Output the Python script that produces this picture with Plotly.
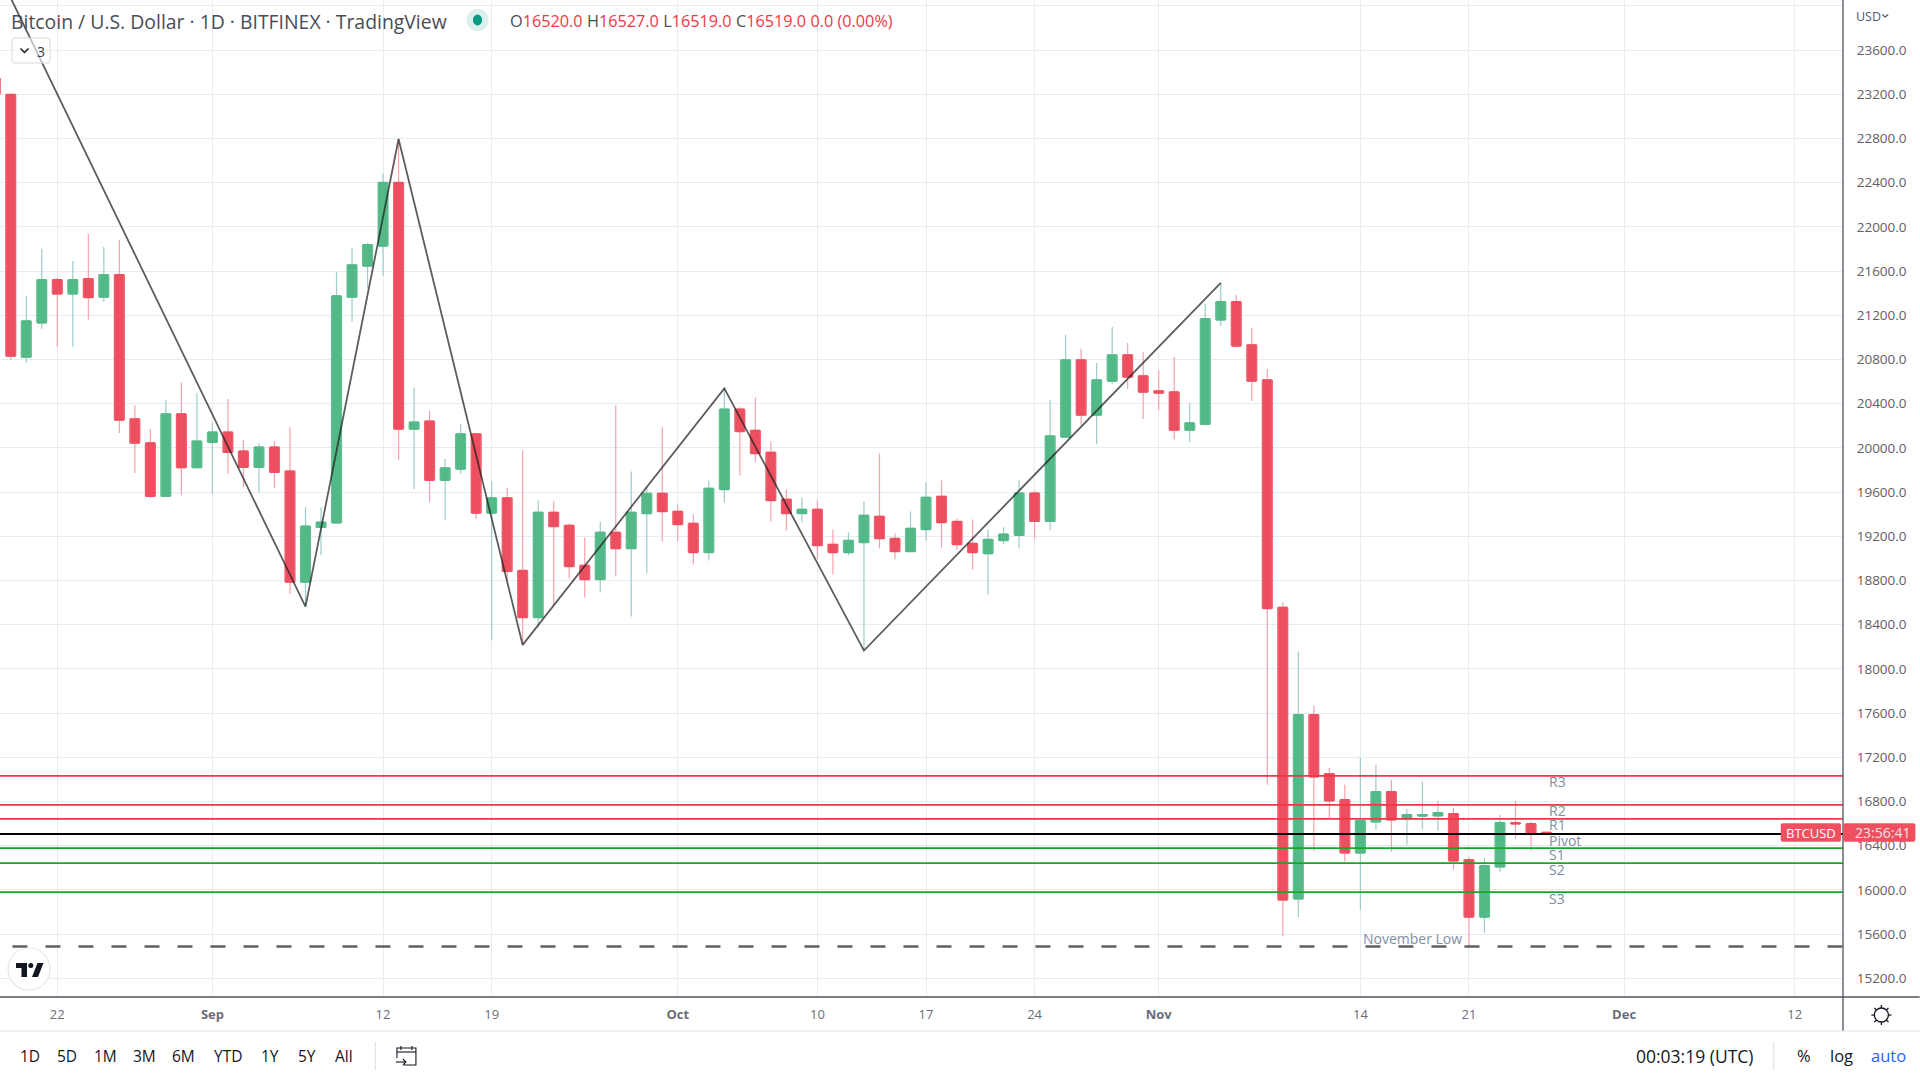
#!/usr/bin/env python3
# -*- coding: utf-8 -*-
"""Bitcoin / U.S. Dollar daily candles with pivot levels"""

import pandas as pd
import plotly.graph_objects as go

W, H = 1920, 1080
PLOT_R, PLOT_B = 1843.3, 997.0

dates = pd.date_range("2022-08-18", periods=101).strftime("%Y-%m-%d").tolist()

opens = [23346, 23197, 20822, 21132, 21521, 21394, 21530, 21365, 21566, 20262,
         20045, 19563, 20307, 19822, 20051, 20142, 19970, 19825, 20006, 19789,
         18786, 19281, 19323, 21365, 21647, 21828, 22401, 20171, 20242, 19708,
         19809, 20126, 19411, 19547, 18890, 18465, 19416, 19298, 18936, 18809,
         19235, 19090, 19407, 19588, 19425, 19316, 19054, 19624, 20349, 20158,
         19959, 19534, 19407, 19443, 19126, 19054, 19144, 19380, 19180, 19063,
         19262, 19561, 19334, 19135, 19044, 19163, 19209, 19590, 19336, 20098,
         20796, 20297, 20605, 20841, 20651, 20515, 20506, 20161, 20215, 21159,
         21322, 20932, 20615, 18556, 15919, 17586, 17052, 16816, 16336, 16617,
         16889, 16644, 16670, 16671, 16689, 16273, 15756, 16209, 16608, 16599,
         16520]
highs = [23346, 23206, 21375, 21802, 21540, 21692, 21938, 21818, 21883, 20388,
         20171, 20433, 20595, 20498, 20229, 20443, 20071, 20042, 20061, 20187,
         19462, 19462, 21592, 21812, 21854, 22482, 22795, 20543, 20333, 19899,
         20216, 20130, 19699, 19637, 19977, 19524, 19515, 19316, 19189, 19334,
         20385, 19787, 19651, 20186, 19488, 19398, 19706, 20539, 20367, 20457,
         20059, 19624, 19552, 19524, 19262, 19235, 19515, 19950, 19226, 19425,
         19688, 19706, 19361, 19352, 19262, 19281, 19708, 19617, 20433, 21023,
         20896, 20769, 21095, 20950, 20868, 20705, 20823, 20406, 21304, 21494,
         21385, 21086, 20714, 18601, 18157, 17668, 17106, 16952, 17197, 17133,
         16997, 16735, 16979, 16807, 16744, 16300, 16291, 16680, 16807, 16617,
         16527]
lows = [23190, 20796, 20770, 21077, 20915, 20915, 21161, 21320, 20135, 19773,
        19547, 19563, 19572, 19822, 19582, 19767, 19644, 19595, 19640, 18679,
        18570, 19029, 19314, 21142, 21443, 21556, 19890, 19627, 19508, 19346,
        19763, 19356, 18257, 18800, 18217, 18377, 18574, 18818, 18646, 18691,
        18836, 18474, 18863, 19153, 19153, 18945, 18981, 19506, 19751, 19869,
        19334, 19253, 19325, 18999, 18854, 19026, 18166, 19090, 18990, 19063,
        19162, 19099, 19081, 18900, 18673, 19127, 19091, 19173, 19254, 20098,
        20206, 20034, 20578, 20533, 20261, 20342, 20079, 20052, 20206, 21104,
        20905, 20424, 16952, 15584, 15756, 16354, 16644, 16254, 15820, 16544,
        16345, 16408, 16544, 16535, 16182, 15484, 15611, 16164, 16463, 16354,
        16519]
closes = [23200, 20831, 21148, 21521, 21394, 21521, 21362, 21566, 20252, 20045,
          19563, 20307, 19822, 20061, 20142, 19961, 19825, 20006, 19780, 18786,
          19291, 19326, 21375, 21656, 21838, 22401, 20171, 20233, 19708, 19818,
          20126, 19411, 19547, 18883, 18465, 19416, 19289, 18927, 18809, 19235,
          19090, 19416, 19588, 19425, 19307, 19054, 19633, 20349, 20149, 19950,
          19524, 19407, 19443, 19117, 19054, 19162, 19389, 19180, 19063, 19271,
          19552, 19325, 19126, 19054, 19171, 19218, 19590, 19336, 20107, 20796,
          20297, 20615, 20841, 20642, 20506, 20497, 20161, 20225, 21168, 21322,
          20923, 20605, 18547, 15910, 17586, 17025, 16807, 16336, 16626, 16889,
          16635, 16680, 16680, 16698, 16263, 15756, 16218, 16608, 16598, 16505,
          16519]

zigzag_dates = ["2022-08-15", "2022-09-07", "2022-09-13", "2022-09-21",
                "2022-10-04", "2022-10-13", "2022-11-05"]
zigzag_prices = [25230, 18563, 22795, 18217, 20539, 18166, 21494]

red_levels = [17032, 16769, 16642]
red_names = ["R3", "R2", "R1"]
green_levels = [16379, 16243, 15980]
green_names = ["S1", "S2", "S3"]
pivot_level = 16506
nov_low = 15488

y_ticks = list(range(15200, 24001, 400))
y_labels = [f"{v:.1f}" if v < 24000 else "" for v in y_ticks]
x_ticks = ["2022-08-22", "2022-09-01", "2022-09-12", "2022-09-19", "2022-10-01",
           "2022-10-10", "2022-10-17", "2022-10-24", "2022-11-01", "2022-11-14",
           "2022-11-21", "2022-12-01", "2022-12-12"]
x_labels = ["22", "<b>Sep</b>", "12", "19", "<b>Oct</b>", "10", "17", "24",
            "<b>Nov</b>", "14", "21", "<b>Dec</b>", "12"]

FONT = "Open Sans"
RED, GREEN = "#EE4F60", "#53B987"
WICK_RED, WICK_GREEN = "#F6A2AD", "#9FCBCA"
GRID = "#E6EDF2"
AXIS = "#50535E"
BORDER = "#E0E3EB"
DAY_MS = 86400000


def px(x):
    return x / PLOT_R


def py(y):
    return 1 - y / PLOT_B


def poly(points, close=False):
    """像素点 -> paper 坐标的 path"""
    path = "M" + " L".join(f"{px(x):.5f},{py(y):.5f}" for x, y in points)
    return path + (" Z" if close else "")


def rrect(x0, y0, x1, y1, r):
    def p(x, y):
        return f"{px(x):.5f},{py(y):.5f}"
    return (f"M{p(x0 + r, y0)} L{p(x1 - r, y0)} Q{p(x1, y0)} {p(x1, y0 + r)} "
            f"L{p(x1, y1 - r)} Q{p(x1, y1)} {p(x1 - r, y1)} L{p(x0 + r, y1)} "
            f"Q{p(x0, y1)} {p(x0, y1 - r)} L{p(x0, y0 + r)} Q{p(x0, y0)} {p(x0 + r, y0)} Z")


def shape_path(path, line=None, width=0, fill=None):
    fig.add_shape(type="path", path=path, xref="paper", yref="paper", layer="above",
                  line=dict(color=line or "rgba(0,0,0,0)", width=width),
                  fillcolor=fill or "rgba(0,0,0,0)")


def circle(cx, cy, rx, ry, line=None, width=0, fill=None):
    fig.add_shape(type="circle", xref="paper", yref="paper", layer="above",
                  x0=px(cx - rx), x1=px(cx + rx), y0=py(cy + ry), y1=py(cy - ry),
                  line=dict(color=line or "rgba(0,0,0,0)", width=width),
                  fillcolor=fill or "rgba(0,0,0,0)")


def label(x, y, text, size=14, color="#131722", anchor="left"):
    fig.add_annotation(x=px(x), y=py(y), xref="paper", yref="paper", text=text,
                       showarrow=False, xanchor=anchor, yanchor="middle",
                       font=dict(family=FONT, size=size, color=color), borderpad=0)


fig = go.Figure()

# bar 总在 candlestick 下面: bar 给实体宽度, 第一层 candlestick 画影线, 第二层盖住影线层的框
body_colors = [GREEN if c > o else RED for o, c in zip(opens, closes)]
fig.add_trace(go.Bar(
    x=dates,
    base=[min(o, c) for o, c in zip(opens, closes)],
    y=[abs(c - o) for o, c in zip(opens, closes)],
    width=0.657 * DAY_MS,
    marker=dict(color=body_colors, line=dict(color=body_colors, width=0.8)),
    showlegend=False,
))
fig.add_trace(go.Candlestick(
    x=dates, open=opens, high=highs, low=lows, close=closes,
    whiskerwidth=0,
    increasing=dict(line=dict(color=WICK_GREEN, width=1.2), fillcolor=WICK_GREEN),
    decreasing=dict(line=dict(color=WICK_RED, width=1.2), fillcolor=WICK_RED),
    showlegend=False,
))
fig.add_trace(go.Candlestick(
    x=dates, open=opens, close=closes,
    high=[max(o, c) for o, c in zip(opens, closes)],
    low=[min(o, c) for o, c in zip(opens, closes)],
    whiskerwidth=0,
    increasing=dict(line=dict(color=GREEN, width=1.5), fillcolor=GREEN),
    decreasing=dict(line=dict(color=RED, width=1.5), fillcolor=RED),
    showlegend=False,
))
fig.add_trace(go.Scatter(
    x=zigzag_dates, y=zigzag_prices, mode="lines",
    line=dict(color="rgba(30,30,30,0.72)", width=1.8),
    showlegend=False,
))

fig.update_layout(
    width=W, height=H,
    margin=dict(l=0, r=W - PLOT_R, t=0, b=H - PLOT_B, autoexpand=False),
    paper_bgcolor="white", plot_bgcolor="white",
    barmode="overlay",
    font=dict(family=FONT),
    xaxis=dict(
        type="date", range=["2022-08-18 07:22", "2022-12-15 02:40"],
        rangeslider=dict(visible=False),
        tickmode="array", tickvals=x_ticks, ticktext=x_labels,
        tickfont=dict(family=FONT, size=13, color="#6A6D78"),
        ticks="outside", ticklen=5, tickcolor="rgba(0,0,0,0)",
        gridcolor=GRID, gridwidth=1, showline=False, zeroline=False,
    ),
    yaxis=dict(
        side="right", range=[15031, 24053],
        tickmode="array", tickvals=y_ticks, ticktext=y_labels,
        tickfont=dict(family=FONT, size=13.5, color="#5D606B"),
        ticks="outside", ticklen=10, tickcolor="rgba(0,0,0,0)",
        gridcolor=GRID, gridwidth=1, showline=False, zeroline=False,
    ),
)

# 水平位
for lvl in red_levels:
    fig.add_hline(y=lvl, line=dict(color="#F23645", width=1.8), layer="above")
for lvl in green_levels:
    fig.add_hline(y=lvl, line=dict(color="#16A821", width=1.8), layer="above")
fig.add_hline(y=pivot_level, line=dict(color="#000000", width=1.9), layer="above")
fig.add_shape(type="line", x0="2022-08-19 02:40", x1="2022-12-15 02:40", y0=nov_low, y1=nov_low,
              line=dict(color="#606060", width=2.7, dash="15px,18px"), layer="above")

LEVEL_LABEL_DATE = "2022-11-26 00:30"
for name, lvl in zip(red_names + ["Pivot"] + green_names,
                     red_levels + [pivot_level] + green_levels):
    fig.add_annotation(x=LEVEL_LABEL_DATE, y=lvl, text=name, showarrow=False,
                       xanchor="left", yanchor="middle", yshift=-6,
                       font=dict(family=FONT, size=14, color="#7E8EA0"))
fig.add_annotation(x="2022-11-14 01:30", y=nov_low, text="November Low", showarrow=False,
                   xanchor="left", yanchor="middle", yshift=8,
                   font=dict(family=FONT, size=14, color="#7E8EA0"))

# 坐标轴和工具栏分隔线
shape_path(poly([(0, 997), (W, 997)]), line=AXIS, width=1.3)
shape_path(poly([(1843.3, 0), (1843.3, 1031)]), line=AXIS, width=1.3)
shape_path(poly([(0, 1031), (W, 1031)]), line=BORDER, width=1.2)
shape_path(poly([(375.4, 1042), (375.4, 1070)]), line=BORDER, width=1.2)
shape_path(poly([(1774, 1042), (1774, 1070)]), line=BORDER, width=1.2)

# 当前价格标签
shape_path(rrect(1781, 823.3, 1841.3, 841.7, 2), fill="#EF5060")
shape_path(rrect(1843.5, 823.3, 1915.7, 841.7, 2), fill="#EF5060")
label(1811, 832.5, "BTCUSD", 13, "#FFFFFF", "center")
label(1883, 832.5, "23:56:41", 14, "#FBE0E3", "center")

# 顶部图例
label(10, 21.5, "Bitcoin / U.S. Dollar · 1D · BITFINEX · TradingView", 19.4, "#4A4D57")
circle(477.6, 20, 11, 11, fill="#D9F0EC")
circle(477.6, 20, 4.6, 5.4, fill="#089981")
sp = '<span style="color:#F23645">{}</span>'
label(509, 21.5, "O" + sp.format("16520.0") + " H" + sp.format("16527.0") + " L"
      + sp.format("16519.0") + " C" + sp.format("16519.0") + " " + sp.format("0.0 (0.00%)"),
      16.25, "#4A4D57")

# 折叠按钮
shape_path(rrect(12, 38, 50, 63, 3), line="#D6D8E0", width=1, fill="rgba(255,255,255,0.6)")
shape_path(poly([(20.5, 48.5), (24.5, 52.5), (28.5, 48.5)]), line="#131722", width=1.5)
label(36, 51, "3", 14, "#363A45")

# TV 图标
circle(29, 969, 21, 21, line="#E6E7EC", width=1.2, fill="#FFFFFF")
shape_path(poly([(16, 963), (27, 963), (27, 977), (21.5, 977), (21.5, 968), (16, 968)], True), fill="#131722")
circle(30.8, 965.6, 2.5, 2.5, fill="#131722")
shape_path(poly([(37.5, 963), (43.5, 963), (38, 977), (32, 977)], True), fill="#131722")

# USD
label(1855.7, 16, "USD", 12.5, "#4A5A78")
shape_path(poly([(1882.5, 14.5), (1885.5, 17), (1888.5, 14.5)]), line="#50535E", width=1.2)

# 底部工具栏
for cx, txt in zip([30, 67.4, 105.8, 145, 184, 227.7, 270.5, 307, 344],
                   ["1D", "5D", "1M", "3M", "6M", "YTD", "1Y", "5Y", "All"]):
    label(cx, 1055.5, txt, 15.5, "#131722", "center")
label(1695, 1055.5, "00:03:19 (UTC)", 17.5, "#131722", "center")
label(1804.5, 1055.5, "%", 16.5, "#131722", "center")
label(1842, 1055.5, "log", 16.5, "#131722", "center")
label(1889, 1055.5, "auto", 16.5, "#2962FF", "center")

# 日历图标
shape_path(poly([(397, 1058), (397, 1048), (416, 1048), (416, 1065), (404, 1065)]), line="#131722", width=1.1)
shape_path(poly([(397, 1052), (416, 1052)]), line="#131722", width=1.1)
shape_path(poly([(401, 1046), (401, 1050)]), line="#131722", width=1.1)
shape_path(poly([(412, 1046), (412, 1050)]), line="#131722", width=1.1)
shape_path(poly([(396, 1062), (406, 1062)]), line="#131722", width=1.1)
shape_path(poly([(403, 1059), (406, 1062), (403, 1065)]), line="#131722", width=1.1)

# 设置图标
circle(1881.7, 1015, 7, 7, line="#131722", width=1.3)
for x0, y0, x1, y1 in [(1881.7, 1005, 1881.7, 1008), (1881.7, 1022, 1881.7, 1025),
                       (1871.7, 1015, 1874.7, 1015), (1888.7, 1015, 1891.7, 1015),
                       (1874.6, 1007.9, 1876.7, 1010), (1886.7, 1020, 1888.8, 1022.1),
                       (1888.8, 1007.9, 1886.7, 1010), (1876.7, 1020, 1874.6, 1022.1)]:
    shape_path(poly([(x0, y0), (x1, y1)]), line="#131722", width=1.3)

fig.write_html("out.html", config={"displayModeBar": False},
               post_script="document.body.style.margin='0';")
